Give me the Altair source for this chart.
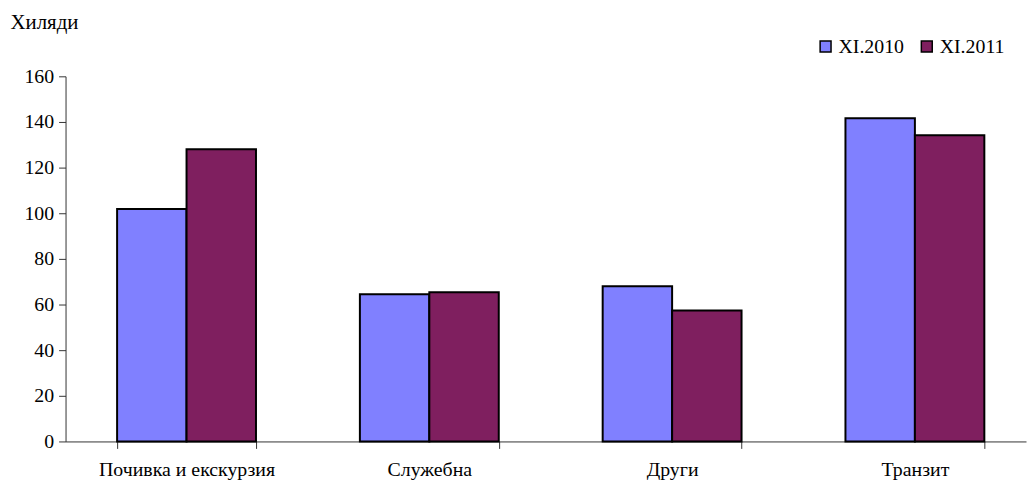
import altair as alt
import pandas as pd

categories = ["Почивка и екскурзия", "Служебна", "Други", "Транзит"]
series = ["XI.2010", "XI.2011"]
v2010 = [101.9, 64.5, 68.0, 141.6]
v2011 = [128.0, 65.4, 57.4, 134.2]
colors = ["#8080FF", "#7F1F5F"]

rows = []
for c, a, b in zip(categories, v2010, v2011):
    rows.append({"cat": c, "series": series[0], "value": a})
    rows.append({"cat": c, "series": series[1], "value": b})
df = pd.DataFrame(rows)

FONT = "Liberation Serif"

chart = alt.Chart(df).mark_bar(stroke="black", strokeWidth=2).encode(
    x=alt.X("cat:N", sort=categories,
            scale=alt.Scale(paddingInner=0.428, paddingOuter=0.192, align=0.553),
            axis=alt.Axis(title=None, labelAngle=0, tickBand="extent",
                          labelFont=FONT, labelFontSize=20, labelColor="black",
                          labelPadding=11, tickSize=7, tickColor="#333",
                          domainColor="#333", labelFlush=False)),
    xOffset=alt.XOffset("series:N", sort=series,
                        scale=alt.Scale(paddingInner=0, paddingOuter=0)),
    y=alt.Y("value:Q", scale=alt.Scale(domain=[0, 160], nice=False),
            axis=alt.Axis(values=list(range(0, 161, 20)), grid=False,
                          title="Хиляди", titleAngle=0, titleAlign="left",
                          titleBaseline="middle", titleX=-56, titleY=-54,
                          titleFont=FONT, titleFontSize=21, titleFontWeight="normal",
                          titleColor="black",
                          labelFont=FONT, labelFontSize=20, labelColor="black",
                          labelPadding=5, tickSize=7, tickColor="#333",
                          domainColor="#333")),
    fill=alt.Fill("series:N", sort=series,
                  scale=alt.Scale(domain=series, range=colors),
                  legend=alt.Legend(title=None, orient="none", direction="horizontal",
                                    legendX=756, legendY=-40,
                                    symbolType="square", symbolSize=121,
                                    symbolStrokeColor="black", symbolStrokeWidth=1.5,
                                    labelFont=FONT, labelFontSize=20, labelColor="black",
                                    labelOffset=3, columnPadding=12)),
).properties(
    width=968, height=368,
    autosize=alt.AutoSizeParams(type="none"),
    padding={"left": 58, "top": 67, "right": 1, "bottom": 38},
).configure_view(stroke=None)

chart.save("out.html", embed_options={"renderer": "svg", "actions": False})
